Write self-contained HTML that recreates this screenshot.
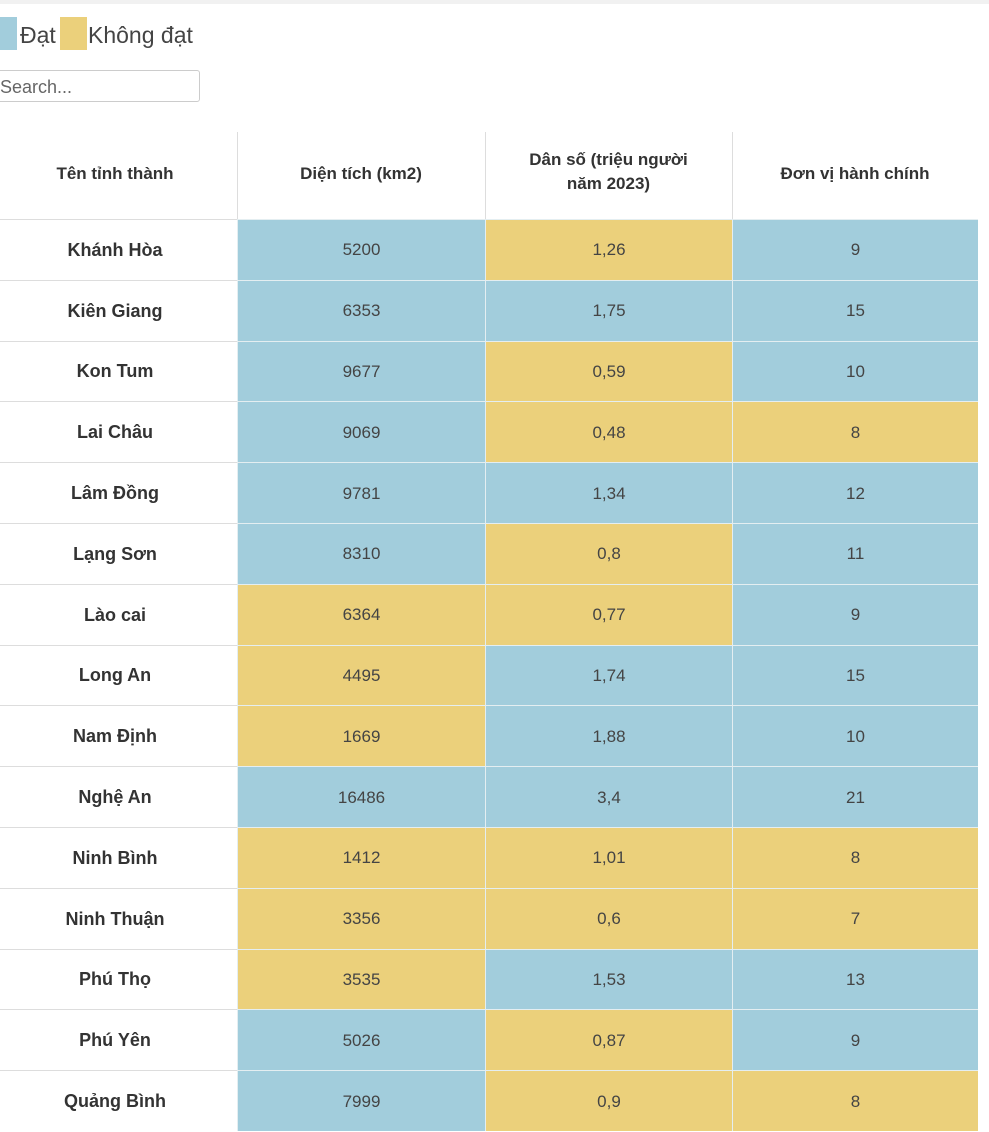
<!DOCTYPE html>
<html><head><meta charset="utf-8"><style>
body{margin:0;width:989px;height:1131px;overflow:hidden;background:#fff;font-family:"Liberation Sans","DejaVu Sans",sans-serif;color:#333;position:relative}
.a{position:absolute}
.c{position:absolute;display:flex;align-items:center;justify-content:center;font-size:17px;color:#444;box-sizing:border-box}
.h{font-weight:bold;color:#333;font-size:17px;text-align:center;line-height:24px}
.n{font-weight:bold;color:#333;font-size:18px}
.b{background:#a2cddc}.y{background:#ebd07b}
</style></head><body>
<div class="a" style="left:0;top:0;width:989px;height:4px;background:#f1f1f1"></div>
<div class="a b" style="left:0;top:17px;width:17px;height:33px"></div>
<div class="a" style="left:20px;top:22px;font-size:23px;color:#444">Đạt</div>
<div class="a y" style="left:60px;top:17px;width:27px;height:33px"></div>
<div class="a" style="left:88px;top:22px;font-size:23px;color:#444">Không đạt</div>
<div class="a" style="left:-5px;top:70px;width:205px;height:32px;border:1px solid #ccc;border-radius:3px;box-sizing:border-box"></div>
<div class="a" style="left:0;top:77px;font-size:18px;color:#666">Search...</div>
<div class="a" style="left:237px;top:132px;width:1px;height:87px;background:#ddd"></div>
<div class="a" style="left:485px;top:132px;width:1px;height:87px;background:#ddd"></div>
<div class="a" style="left:732px;top:132px;width:1px;height:87px;background:#ddd"></div>
<div class="c h" style="left:0;top:130px;width:230px;height:87px">Tên tỉnh thành</div>
<div class="c h" style="left:237px;top:130px;width:248px;height:87px">Diện tích (km2)</div>
<div class="c h" style="left:485px;top:130px;width:247px;height:87px;padding-bottom:4px">Dân số (triệu người<br>năm 2023)</div>
<div class="c h" style="left:732px;top:130px;width:246px;height:87px">Đơn vị hành chính</div>
<div id="t"></div>
<script>
var d=[["Khánh Hòa","5200","b","1,26","y","9","b"],["Kiên Giang","6353","b","1,75","b","15","b"],["Kon Tum","9677","b","0,59","y","10","b"],["Lai Châu","9069","b","0,48","y","8","y"],["Lâm Đồng","9781","b","1,34","b","12","b"],["Lạng Sơn","8310","b","0,8","y","11","b"],["Lào cai","6364","y","0,77","y","9","b"],["Long An","4495","y","1,74","b","15","b"],["Nam Định","1669","y","1,88","b","10","b"],["Nghệ An","16486","b","3,4","b","21","b"],["Ninh Bình","1412","y","1,01","y","8","y"],["Ninh Thuận","3356","y","0,6","y","7","y"],["Phú Thọ","3535","y","1,53","b","13","b"],["Phú Yên","5026","b","0,87","y","9","b"],["Quảng Bình","7999","b","0,9","y","8","y"]];
var h="",rh=60.8;
d.forEach(function(r,i){var t=219+i*rh;
h+='<div class="a" style="left:0;top:'+t+'px;width:237px;height:1px;background:#ddd"></div>';
h+='<div class="c n" style="left:0;top:'+(t+1)+'px;width:230px;height:'+rh+'px">'+r[0]+'</div>';
var xs=[[237,248],[485,247],[732,246]];
for(var k=0;k<3;k++){h+='<div class="c '+r[2+k*2]+'" style="left:'+xs[k][0]+'px;top:'+t+'px;width:'+xs[k][1]+'px;height:'+rh+'px;padding-top:1px;border-top:1px solid #e4eef1;border-left:1px solid #e4eef1">'+r[1+k*2]+'</div>';}
});
document.getElementById("t").innerHTML=h;
</script>
</body></html>
